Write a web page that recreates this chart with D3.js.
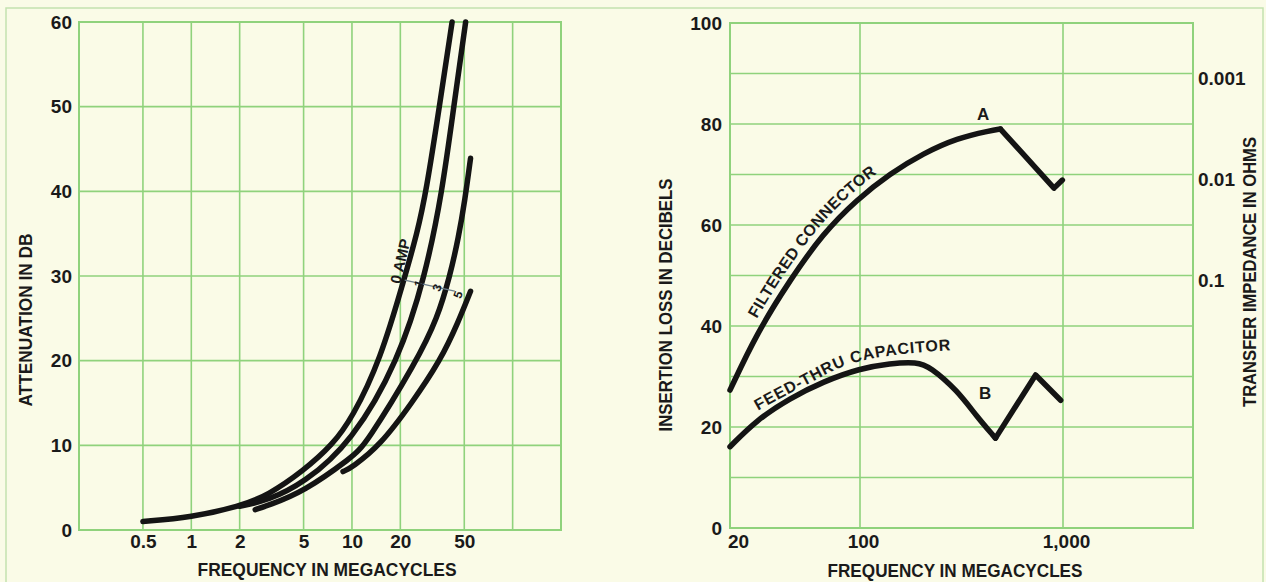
<!DOCTYPE html>
<html>
<head>
<meta charset="utf-8">
<script src="https://cdn.jsdelivr.net/npm/d3@7"></script>
<style>
body { margin: 0; background: #fafbe7; }
svg { display: block; }
text { font-family: "Liberation Sans", Arial, sans-serif; font-weight: bold; fill: #1a1a1a; }
.tick-label { font-size: 19px; }
.title { font-size: 18px; }
.curve-label { font-size: 16px; }
</style>
</head>
<body>
<script>

//---- left chart: attenuation vs frequency, one curve per bias current ----
var leftFreqDomain = [0.2, 200];
var leftFreqGrid = [0.5, 1, 2, 5, 10, 20, 50, 100];
var leftFreqTicks = [0.5, 1, 2, 5, 10, 20, 50];
var attenTicks = [0, 10, 20, 30, 40, 50, 60];

var amp0 = [[0.5, 1.0], [1, 1.5], [2, 2.8], [3, 4.1], [5, 7.0], [7.6, 10.1], [10, 13.2], [15, 20], [21.4, 30], [25.4, 35], [29, 40], [35, 50], [42, 60]];
var amp1 = [[2, 2.8], [3, 3.5], [5, 5.5], [10, 10.4], [19.5, 20], [28.6, 30], [36.5, 40], [43, 50], [51, 60]];
var amp3 = [[2.5, 2.4], [3, 2.9], [5, 4.5], [10, 8.6], [12.1, 10], [25.4, 20], [34, 25], [40.7, 30], [46, 34.5], [50.5, 39], [54.7, 43.9]];
var amp5 = [[8.8, 6.9], [10, 7.4], [15, 10], [23.6, 15], [35.5, 20], [46, 24.6], [54.7, 28.2]];

//amp labels: text, freq, dB
var ampLabels = [["1", 26.1, 29.1], ["3", 33.9, 28.6], ["5", 45.8, 27.8]];
var ampTitle = ["0 AMP", 20.0, 29.0];
var ampLeader = [[21.3, 29.5], [43.6, 28.2]];

//---- right chart: insertion loss vs frequency ----
//printed axis is stretched below 100 mc, so the log scale is piecewise
var rightFreqDomain = [20, 100, 1000, 4400];
var rightFreqGrid = [100, 1000];
var rightFreqTicks = [20, 100, 1000];
var lossGrid = [10, 20, 30, 40, 50, 60, 70, 80, 90];
var lossTicks = [0, 20, 40, 60, 80, 100];
var ohmTicks = [0.001, 0.01, 0.1];

var connectorSmooth = [[20, 27.3], [27.8, 38.5], [42, 49.1], [63.5, 58.4], [95.9, 65], [140.7, 70.2], [205.5, 74.2], [300.6, 77.2], [439, 78.7], [492, 79.0]];
var connectorTail = [[492, 79.0], [903, 67.3], [993, 68.9]];
var capacitorSmooth = [[20, 16.1], [27.8, 21.4], [42, 25.7], [63.5, 29.0], [100, 31.6], [140.7, 32.6], [190.7, 32.9], [221.8, 31.9], [300.6, 27.3], [377.5, 22.0], [465, 17.8]];
var capacitorTail = [[465, 17.8], [733, 30.3], [974, 25.3]];
var capacitorTextGuide = [[28.3, 23.2], [47.6, 27.7], [96.4, 32.9], [278.6, 35.2]];
var pointLabels = [["A", 404, 81.8], ["B", 413, 26.7]];


var W = 1266, H = 582;
var gridColor = "#8fd27c";

var svg = d3.select("body")
    .append("svg")
    .attr("width", W)
    .attr("height", H);

svg.append("rect")
    .attr("width", W)
    .attr("height", H)
    .attr("fill", "#fafbe7");

//faint page frame
svg.append("rect")
    .attr("x", 6)
    .attr("y", 8)
    .attr("width", 1257)
    .attr("height", 620)
    .attr("fill", "none")
    .attr("stroke", "#c3e2b0")
    .attr("stroke-width", 1.5);

function drawGrid(g, x, y, xs, ys, box){
    g.selectAll(".vgrid")
        .data(xs)
        .enter()
        .append("line")
        .attr("x1", function(d){ return x(d); })
        .attr("x2", function(d){ return x(d); })
        .attr("y1", box.top)
        .attr("y2", box.bottom)
        .attr("stroke", gridColor)
        .attr("stroke-width", 1.6);
    g.selectAll(".hgrid")
        .data(ys)
        .enter()
        .append("line")
        .attr("x1", box.left)
        .attr("x2", box.right)
        .attr("y1", function(d){ return y(d); })
        .attr("y2", function(d){ return y(d); })
        .attr("stroke", gridColor)
        .attr("stroke-width", 1.6);
    g.append("rect")
        .attr("x", box.left)
        .attr("y", box.top)
        .attr("width", box.right - box.left)
        .attr("height", box.bottom - box.top)
        .attr("fill", "none")
        .attr("stroke", gridColor)
        .attr("stroke-width", 2);
}

function cleanAxis(g){
    g.select(".domain").remove();
    g.attr("font-size", null).attr("font-family", null);
    g.selectAll("text").attr("class", "tick-label").attr("fill", null);
}

function drawCurve(g, line, data){
    return g.append("path")
        .datum(data)
        .attr("d", line)
        .attr("fill", "none")
        .attr("stroke", "#141414")
        .attr("stroke-width", 5.5)
        .attr("stroke-linecap", "round")
        .attr("stroke-linejoin", "round");
}

function fitSpacing(sel, target){
    var n = sel.text().length;
    var len = sel.node().getComputedTextLength();
    sel.style("letter-spacing", ((target - len) / (n - 1)) + "px");
}

function addTitle(x, y, txt, len, rotate){
    svg.append("text")
        .attr("class", "title")
        .attr("transform", "translate(" + x + "," + y + ")" + (rotate ? " rotate(-90)" : ""))
        .attr("text-anchor", "middle")
        .attr("dominant-baseline", "central")
        .attr("textLength", len)
        .attr("lengthAdjust", "spacingAndGlyphs")
        .text(txt);
}

//================ left chart ================
var L = {left: 79, right: 561, top: 22, bottom: 530};

var xL = d3.scaleLog()
    .domain(leftFreqDomain)
    .range([L.left, L.right]);

var yL = d3.scaleLinear()
    .domain([0, 60])
    .range([L.bottom, L.top]);

var left = svg.append("g");
drawGrid(left, xL, yL, leftFreqGrid, attenTicks, L);

left.append("g")
    .attr("transform", "translate(" + L.left + ",0)")
    .call(d3.axisLeft(yL).tickValues(attenTicks).tickSize(0).tickPadding(7))
    .call(cleanAxis);

left.append("g")
    .attr("transform", "translate(0," + L.bottom + ")")
    .call(d3.axisBottom(xL).tickValues(leftFreqTicks).tickSize(0).tickPadding(5).tickFormat(d3.format("")))
    .call(cleanAxis);

//hand drawn curves: a b-spline keeps them smooth through the read-off points
var lineL = d3.line()
    .x(function(d){ return xL(d[0]); })
    .y(function(d){ return yL(d[1]); })
    .curve(d3.curveBasis);

[amp0, amp1, amp3, amp5].forEach(function(c){ drawCurve(left, lineL, c); });

//leader line through the amp labels
left.append("line")
    .attr("x1", xL(ampLeader[0][0]))
    .attr("y1", yL(ampLeader[0][1]))
    .attr("x2", xL(ampLeader[1][0]))
    .attr("y2", yL(ampLeader[1][1]))
    .attr("stroke", "#6d7f8c")
    .attr("stroke-width", 1.3);

left.append("text")
    .attr("transform", "translate(" + xL(ampTitle[1]) + "," + yL(ampTitle[2]) + ") rotate(-77)")
    .style("font-size", "15px")
    .text(ampTitle[0]);

left.selectAll(".amp")
    .data(ampLabels)
    .enter()
    .append("text")
    .attr("transform", function(d){ return "translate(" + xL(d[1]) + "," + yL(d[2]) + ") rotate(-70)"; })
    .attr("text-anchor", "middle")
    .attr("dominant-baseline", "central")
    .style("font-size", "12px")
    .attr("fill", "#34404a")
    .text(function(d){ return d[0]; });

addTitle(327, 570, "FREQUENCY IN MEGACYCLES", 259, false);
addTitle(26, 320, "ATTENUATION IN DB", 173, true);

//================ right chart ================
var R = {left: 730, right: 1193, top: 23, bottom: 528};

var xR = d3.scaleLog()
    .domain(rightFreqDomain)
    .range([R.left, R.left + 130, R.left + 333, R.right]);

var yR = d3.scaleLinear()
    .domain([0, 100])
    .range([R.bottom, R.top]);

//transfer impedance: 20 db per decade, 0.001 ohm at 90 db
var zR = d3.scaleLog()
    .domain([Math.pow(10, 1.5), Math.pow(10, -3.5)])
    .range([R.bottom, R.top]);

var right = svg.append("g");
drawGrid(right, xR, yR, rightFreqGrid, lossGrid, R);

right.append("g")
    .attr("transform", "translate(" + R.left + ",0)")
    .call(d3.axisLeft(yR).tickValues(lossTicks).tickSize(0).tickPadding(8))
    .call(cleanAxis);

right.append("g")
    .attr("transform", "translate(0," + R.bottom + ")")
    .call(d3.axisBottom(xR).tickValues(rightFreqTicks).tickSize(0).tickPadding(7).tickFormat(d3.format(",")))
    .call(cleanAxis)
    .selectAll("text")
    .attr("dx", function(d){ return d === 20 ? 8 : 3; });

right.append("g")
    .attr("transform", "translate(" + R.right + ",0)")
    .call(d3.axisRight(zR).tickValues(ohmTicks).tickSize(0).tickPadding(5).tickFormat(d3.format("")))
    .call(cleanAxis)
    .selectAll("text")
    .attr("y", 5);

var lineSmooth = d3.line()
    .x(function(d){ return xR(d[0]); })
    .y(function(d){ return yR(d[1]); })
    .curve(d3.curveBasis);

var lineStraight = d3.line()
    .x(function(d){ return xR(d[0]); })
    .y(function(d){ return yR(d[1]); });

var pathA = drawCurve(right, lineSmooth, connectorSmooth).attr("id", "curveA");
drawCurve(right, lineStraight, connectorTail);
drawCurve(right, lineSmooth, capacitorSmooth);
drawCurve(right, lineStraight, capacitorTail);

//guide for the capacitor label
right.append("path")
    .attr("id", "guideB")
    .attr("d", d3.line()
        .x(function(d){ return xR(d[0]); })
        .y(function(d){ return yR(d[1]); })
        .curve(d3.curveMonotoneX)(capacitorTextGuide))
    .attr("fill", "none")
    .attr("stroke", "none");

//start the connector label where the curve passes 30 mc
var node = pathA.node(), startLen = 0, targetX = xR(30);
for (var s = 0; s < node.getTotalLength(); s += 1){
    if (node.getPointAtLength(s).x >= targetX){ startLen = s; break; }
}

var labelA = right.append("g")
    .attr("transform", "translate(-6,-6)")
    .append("text")
    .attr("class", "curve-label");
labelA.append("textPath")
    .attr("href", "#curveA")
    .attr("startOffset", startLen)
    .text("FILTERED CONNECTOR");
fitSpacing(labelA, 190);

var labelB = right.append("text")
    .attr("class", "curve-label");
labelB.append("textPath")
    .attr("href", "#guideB")
    .text("FEED-THRU CAPACITOR");
fitSpacing(labelB, 205);

right.selectAll(".pt")
    .data(pointLabels)
    .enter()
    .append("text")
    .attr("x", function(d){ return xR(d[1]); })
    .attr("y", function(d){ return yR(d[2]); })
    .attr("text-anchor", "middle")
    .attr("dominant-baseline", "central")
    .style("font-size", "17px")
    .text(function(d){ return d[0]; });

addTitle(955, 571, "FREQUENCY IN MEGACYCLES", 255, false);
addTitle(666, 305, "INSERTION LOSS IN DECIBELS", 253, true);
addTitle(1250, 272, "TRANSFER IMPEDANCE IN OHMS", 270, true);

</script>
</body>
</html>
